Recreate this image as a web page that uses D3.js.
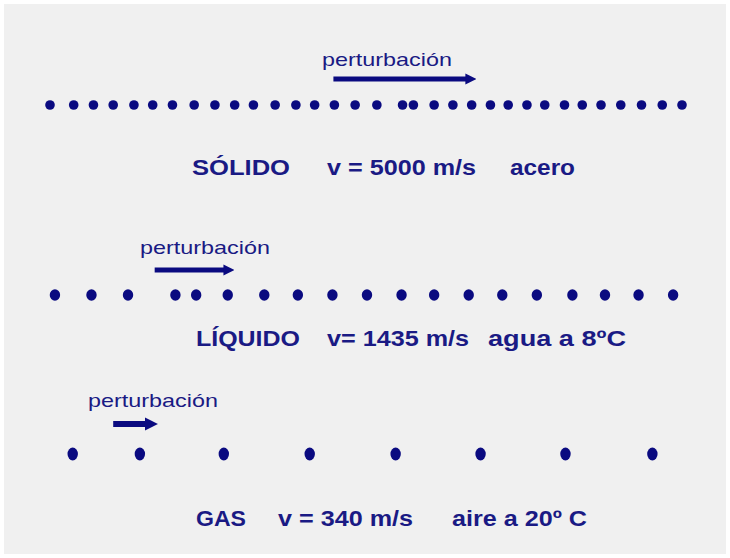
<!DOCTYPE html>
<html>
<head>
<meta charset="utf-8">
<script src="https://cdn.jsdelivr.net/npm/d3@7"></script>
<style>
  html, body { margin: 0; padding: 0; background: #ffffff; }
  svg { display: block; }
</style>
</head>
<body>
<div id="chart"></div>
<script>
// estados del medio y sus rótulos
var stateNames = ["SÓLIDO", "LÍQUIDO", "GAS"];
var speedLabels = ["v = 5000 m/s", "v= 1435 m/s", "v = 340 m/s"];
var mediumLabels = ["acero", "agua a 8ºC", "aire a 20º C"];
var pulseLabel = "perturbación";

// posición de cada partícula a lo largo del medio (cm)
var solidParticles = [0, 1.2, 2.2, 3.2, 4.25, 5.2, 6.2, 7.3, 8.35, 9.35, 10.3, 11.4, 12.45,
  13.4, 14.4, 15.45, 16.55, 17.85, 18.4, 19.45, 20.4, 21.35, 22.3, 23.2, 24.15, 25.05,
  26.05, 26.95, 27.9, 28.9, 29.95, 31.0, 32.0];
var liquidParticles = [0.25, 2.1, 3.95, 6.35, 7.4, 9.0, 10.85, 12.55, 14.3, 16.05, 17.8,
  19.45, 21.2, 22.9, 24.65, 26.45, 28.1, 29.8, 31.55];
var gasParticles = [1.15, 4.55, 8.8, 13.15, 17.5, 21.8, 26.1, 30.5];

// extensión de la flecha de la perturbación (cm)
var pulseStart = [14.35, 5.3, 3.2];
var pulseEnd = [21.7, 9.45, 5.6];

var particles = [solidParticles, liquidParticles, gasParticles];

var width = 730, height = 558;
var navy = "#0a0a80", textColor = "#1a1a84";

// maquetación
var rowY = [105, 295, 454];
var dotR = [[4.8, 4.8], [5.2, 5.8], [5.2, 6.4]];
var arrowY = [79, 270, 424];
var arrowW = [5, 5, 6];
var pulseY = [66, 254, 407];
var pulseX = [[322, 452], [140, 270], [88, 218]];
var labelY = [175, 346, 526];
var labelX = [
  [[192, 290], [327, 476], [510, 575]],
  [[196, 300], [327, 469], [488, 626]],
  [[196, 246], [278, 413], [452, 587]]
];

var x = d3.scaleLinear().domain([0, 32]).range([50, 682]);

var svg = d3.select("#chart").append("svg")
  .attr("width", width)
  .attr("height", height);

svg.append("rect")
  .attr("x", 4).attr("y", 4)
  .attr("width", width - 8).attr("height", height - 8)
  .attr("fill", "#f0f0f0");

svg.append("defs").append("marker")
  .attr("id", "head")
  .attr("viewBox", "0 0 10 10")
  .attr("refX", 2).attr("refY", 5)
  .attr("markerWidth", 2.2).attr("markerHeight", 2.6)
  .attr("orient", "auto")
  .append("path")
  .attr("d", "M0,0 L10,5 L0,10 Z")
  .attr("fill", navy);

stateNames.forEach(function (name, i) {
  var g = svg.append("g");

  // partículas
  g.selectAll("ellipse")
    .data(particles[i])
    .enter()
    .append("ellipse")
    .attr("cx", d => x(d))
    .attr("cy", rowY[i])
    .attr("rx", dotR[i][0])
    .attr("ry", dotR[i][1])
    .attr("fill", navy);

  // flecha
  g.append("line")
    .attr("x1", x(pulseStart[i]))
    .attr("x2", x(pulseEnd[i]) - 2.2 * arrowW[i])
    .attr("y1", arrowY[i])
    .attr("y2", arrowY[i])
    .attr("stroke", navy)
    .attr("stroke-width", arrowW[i])
    .attr("marker-end", "url(#head)");

  g.append("text")
    .attr("x", pulseX[i][0])
    .attr("y", pulseY[i])
    .attr("textLength", pulseX[i][1] - pulseX[i][0])
    .attr("lengthAdjust", "spacingAndGlyphs")
    .style("font-family", "'Liberation Sans', Arial, sans-serif")
    .style("font-size", "19px")
    .attr("fill", textColor)
    .text(pulseLabel);

  var parts = [name, speedLabels[i], mediumLabels[i]];
  g.selectAll("text.lbl")
    .data(parts)
    .enter()
    .append("text")
    .attr("class", "lbl")
    .attr("x", (d, j) => labelX[i][j][0])
    .attr("y", labelY[i])
    .attr("textLength", (d, j) => labelX[i][j][1] - labelX[i][j][0])
    .attr("lengthAdjust", "spacingAndGlyphs")
    .style("font-family", "'Liberation Sans', Arial, sans-serif")
    .style("font-size", "22px")
    .style("font-weight", "bold")
    .attr("fill", textColor)
    .text(d => d);
});
</script>
</body>
</html>
